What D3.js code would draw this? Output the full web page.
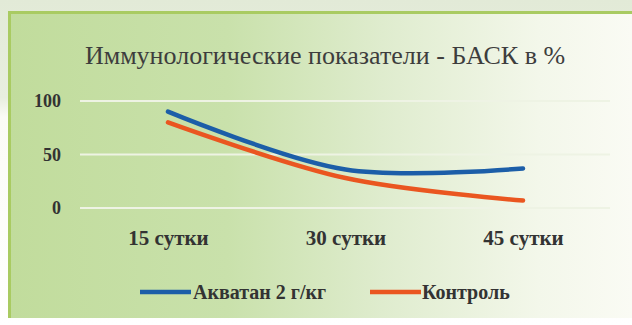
<!DOCTYPE html>
<html><head><meta charset="utf-8">
<script src="https://cdn.jsdelivr.net/npm/d3@7"></script>
<style>html,body{margin:0;padding:0;background:#fff;}svg{display:block;}</style>
</head><body>
<script>
const categories = ["15 сутки", "30 сутки", "45 сутки"];
const seriesNames = ["Акватан 2 г/кг", "Контроль"];
const akvatan = [90, 36, 37];
const kontrol = [80, 28, 7];
const yTicks = [0, 50, 100];
const colors = ["#1c5ea8", "#ea5620"];
const title = "Иммунологические показатели - БАСК в %";

const W = 632, H = 325;
const FONT = "Liberation Serif";
const svg = d3.select("body").append("svg").attr("width", W).attr("height", H);
const defs = svg.append("defs");

const og = defs.append("linearGradient").attr("id","outer").attr("x1",0).attr("y1",0).attr("x2",0).attr("y2",1);
og.append("stop").attr("offset","0").attr("stop-color","#e2ead7");
og.append("stop").attr("offset","0.3").attr("stop-color","#e8eedf");
og.append("stop").attr("offset","0.36").attr("stop-color","#fbfbf6");
og.append("stop").attr("offset","1").attr("stop-color","#ffffff");
svg.append("rect").attr("width",W).attr("height",H).attr("fill","url(#outer)");

const bg = defs.append("linearGradient").attr("id","box").attr("x1",0).attr("y1",0).attr("x2",1).attr("y2",0);
bg.append("stop").attr("offset","0").attr("stop-color","#c1dc9c");
bg.append("stop").attr("offset","0.35").attr("stop-color","#c9e1ab");
bg.append("stop").attr("offset","0.6").attr("stop-color","#dfecce");
bg.append("stop").attr("offset","0.85").attr("stop-color","#f3f7ea");
bg.append("stop").attr("offset","1").attr("stop-color","#fafbf4");
svg.append("rect").attr("x",9).attr("y",12).attr("width",W-9).attr("height",306).attr("fill","url(#box)");
svg.append("rect").attr("x",8).attr("y",11).attr("width",W-8).attr("height",3).attr("fill","#a9cb62");
svg.append("rect").attr("x",8).attr("y",11).attr("width",3).attr("height",307).attr("fill","#a9cb62");

const x = d3.scalePoint().domain(categories).range([168, 523]);
const y = d3.scaleLinear().domain([0, 100]).range([208, 101]);

svg.append("g").selectAll("line").data(yTicks).join("line")
  .attr("x1", 80).attr("x2", 610)
  .attr("y1", d => y(d)).attr("y2", d => y(d))
  .attr("stroke", "#eef3e4").attr("stroke-width", 2);

const yAxis = d3.axisLeft(y).tickValues(yTicks).tickSize(0).tickPadding(0);
const gy = svg.append("g").attr("transform","translate(61,0)").call(yAxis);
gy.select(".domain").remove();
gy.attr("font-family", FONT);
gy.selectAll("text").style("font-family", FONT).attr("font-weight","bold")
  .attr("font-size", 18).attr("fill","#333").attr("dy","0.32em");

const xAxis = d3.axisBottom(x).tickSize(0).tickPadding(0);
const gx = svg.append("g").attr("transform","translate(0,245)").call(xAxis);
gx.select(".domain").remove();
gx.attr("font-family", FONT);
gx.selectAll("text").style("font-family", FONT).attr("font-weight","bold")
  .attr("font-size", 21).attr("fill","#333").attr("dy","0");

svg.append("text").attr("x", 325).attr("y", 64).attr("text-anchor","middle")
  .style("font-family", FONT).attr("font-size", 26).attr("fill","#3d3d3d").text(title);

const line = d3.line().x((d,i) => x(categories[i])).y(d => y(d)).curve(d3.curveCatmullRom);
[akvatan, kontrol].forEach((s, k) => {
  svg.append("path").datum(s).attr("d", line).attr("fill","none")
    .attr("stroke", colors[k]).attr("stroke-width", 4.5).attr("stroke-linecap","round");
});

const leg = [{x:140, tx:193}, {x:370, tx:422}];
seriesNames.forEach((n, k) => {
  svg.append("line").attr("x1", leg[k].x).attr("x2", leg[k].x + 51).attr("y1", 292).attr("y2", 292)
    .attr("stroke", colors[k]).attr("stroke-width", 4.5);
  svg.append("text").attr("x", leg[k].tx).attr("y", 299).style("font-family", FONT)
    .attr("font-weight","bold").attr("font-size", 20).attr("fill","#333").text(n);
});
</script>
</body></html>
